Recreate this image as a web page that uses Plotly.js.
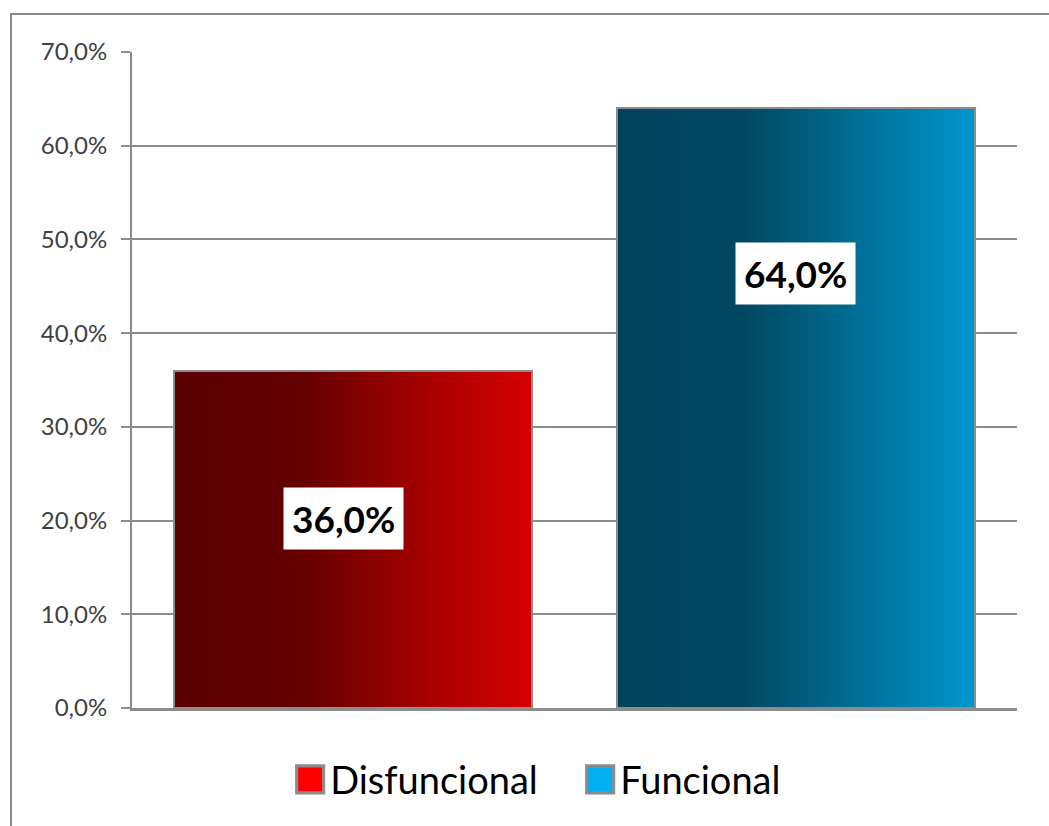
<!DOCTYPE html>
<html>
<head>
<meta charset="utf-8">
<script src="https://cdn.plot.ly/plotly-3.0.1.min.js"></script>
<style>
  html, body { margin: 0; padding: 0; background: #ffffff; overflow: hidden; }
  #frame { position: absolute; left: 10px; top: 13px; width: 1100px; height: 900px;
           border-left: 2px solid #8a8a8a; border-top: 2px solid #8a8a8a; }
  #chart { position: absolute; left: 0; top: 0; width: 1049px; height: 826px; }
</style>
</head>
<body>
<div id="frame"></div>
<div id="chart"></div>
<script>
// ---- data ----
const categories = ["Disfuncional", "Funcional"];
const values = [36.0, 64.0];              // percent
const legendColors = ["#ff0000", "#00b0f0"];
const tickValues = [0, 10, 20, 30, 40, 50, 60, 70];
// vertical centres of the value labels (percent units, as placed in the original)
const labelY = [20.2, 46.4];

const fmt = v => v.toFixed(1).replace(".", ",") + "%";
const tickText = tickValues.map(fmt);

const traces = categories.map((c, i) => ({
  type: "bar",
  name: c,
  x: [c],
  y: [values[i]],
  width: 0.81,
  marker: { color: legendColors[i], line: { color: "#8c8c8c", width: 2 } },
  hoverinfo: "skip"
}));

const annotations = categories.map((c, i) => ({
  x: c, y: labelY[i], xref: "x", yref: "y",
  xshift: i === 0 ? -10 : 0,
  text: "<b>" + fmt(values[i]) + "</b>",
  showarrow: false,
  bgcolor: "#ffffff",
  borderpad: 8,
  font: { family: "Lato, 'Open Sans', sans-serif", size: 37, color: "#000000" }
}));

const layout = {
  width: 1049, height: 826,
  margin: { l: 132, r: 32, t: 52, b: 118 },
  paper_bgcolor: "rgba(0,0,0,0)",
  plot_bgcolor: "rgba(0,0,0,0)",
  barmode: "stack",
  showlegend: true,
  legend: {
    orientation: "h",
    xref: "container", yref: "container",
    x: 0.2766, xanchor: "left",
    y: 0.056, yanchor: "middle",
    entrywidth: 245, entrywidthmode: "pixels",
    font: { family: "Lato, 'Open Sans', sans-serif", size: 38, color: "#000000" },
    itemclick: false, itemdoubleclick: false,
    traceorder: "normal"
  },
  xaxis: {
    type: "category",
    showticklabels: false,
    showgrid: false,
    showline: true, linecolor: "#8c8c8c", linewidth: 3,
    ticks: "",
    fixedrange: true
  },
  yaxis: {
    range: [0, 70],
    tickvals: tickValues,
    ticktext: tickText,
    showgrid: true, gridcolor: "#8c8c8c", gridwidth: 2,
    zeroline: false,
    showline: true, linecolor: "#8c8c8c", linewidth: 2,
    ticks: "outside", ticklen: 9, tickcolor: "#8c8c8c", tickwidth: 2,
    ticklabelstandoff: 9,
    tickfont: { family: "Lato, 'Open Sans', sans-serif", size: 24, color: "#404040" },
    fixedrange: true
  },
  annotations: annotations
};

const gradients = [
  { id: "gradRed",  stops: [[0, "#5c0000"], [0.35, "#630000"], [0.7, "#a50000"], [1, "#d60000"]] },
  { id: "gradBlue", stops: [[0, "#03435b"], [0.36, "#024862"], [0.7, "#00729a"], [1, "#0096cc"]] }
];

Plotly.newPlot("chart", traces, layout, { displayModeBar: false, staticPlot: true }).then(gd => {
  const svgNS = "http://www.w3.org/2000/svg";
  const svg = gd.querySelector(".main-svg");
  let defs = svg.querySelector("defs");
  if (!defs) { defs = document.createElementNS(svgNS, "defs"); svg.insertBefore(defs, svg.firstChild); }
  gradients.forEach(g => {
    const lg = document.createElementNS(svgNS, "linearGradient");
    lg.setAttribute("id", g.id);
    lg.setAttribute("x1", "0"); lg.setAttribute("y1", "0");
    lg.setAttribute("x2", "1"); lg.setAttribute("y2", "0");
    g.stops.forEach(s => {
      const st = document.createElementNS(svgNS, "stop");
      st.setAttribute("offset", s[0]);
      st.setAttribute("stop-color", s[1]);
      lg.appendChild(st);
    });
    defs.appendChild(lg);
  });
  const barTraces = gd.querySelectorAll(".barlayer .trace");
  barTraces.forEach((t, i) => {
    t.querySelectorAll("path").forEach(p => {
      p.style.fill = "url(#" + gradients[i].id + ")";
      p.style.fillOpacity = 1;
    });
  });
  gd.querySelectorAll(".legend .legendpoints path").forEach(p => {
    const tr = p.getAttribute("transform") || "";
    p.setAttribute("transform", tr + " scale(2.25)");
    p.style.strokeWidth = "1.4px";
    p.style.stroke = "#8c8c8c";
  });
  gd.querySelectorAll(".legend").forEach(l => {
    l.querySelectorAll("[clip-path]").forEach(c => c.removeAttribute("clip-path"));
  });
});
</script>
</body>
</html>
